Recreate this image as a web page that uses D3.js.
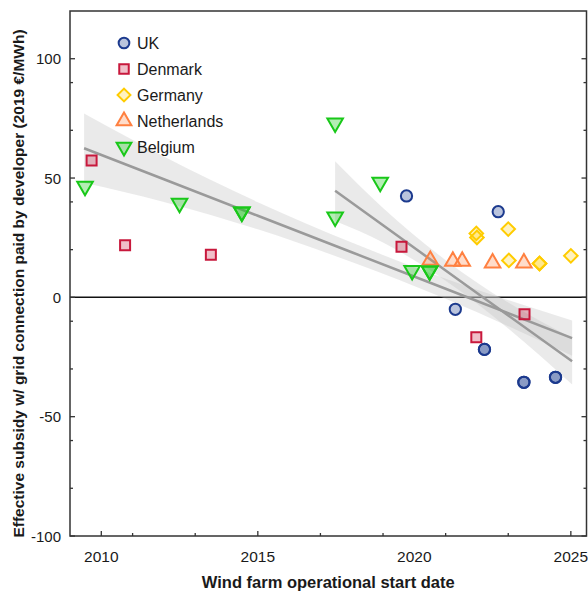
<!DOCTYPE html>
<html>
<head>
<meta charset="utf-8">
<script src="https://cdn.jsdelivr.net/npm/d3@7/dist/d3.min.js"></script>
<style>
  html, body { margin: 0; padding: 0; background: #fff; }
  svg { display: block; }
  text { font-family: "Liberation Sans", Arial, sans-serif; fill: #1a1a1a; }
</style>
</head>
<body>
<svg id="chart" width="588" height="598"></svg>
<script>
// Wind farm start dates (decimal years) and effective subsidy (2019 €/MWh)
const ukYears = [2019.75, 2022.68, 2021.31, 2022.24, 2022.24, 2023.50, 2023.50, 2024.51, 2024.51];
const ukValues = [42.5, 35.9, -5.0, -21.8, -21.8, -35.6, -35.6, -33.5, -33.5];

const dkYears = [2009.69, 2010.76, 2013.50, 2019.59, 2021.98, 2023.52];
const dkValues = [57.4, 21.8, 17.9, 21.2, -16.7, -7.1];

const deYears = [2021.98, 2022.00, 2023.00, 2023.02, 2024.00, 2024.00, 2025.00];
const deValues = [26.8, 25.1, 28.6, 15.5, 14.2, 14.2, 17.4];

const nlYears = [2020.51, 2021.23, 2021.53, 2022.50, 2023.50];
const nlValues = [15.5, 15.1, 15.1, 14.4, 14.4];

const beYears = [2009.48, 2012.50, 2014.49, 2014.49, 2017.47, 2017.47, 2018.91, 2019.93, 2020.49, 2020.49];
const beValues = [46.6, 39.4, 35.8, 35.8, 33.7, 73.1, 48.2, 11.3, 11.1, 11.1];

// Linear trends with confidence bands: all projects, and projects from 2017 on
const trendAllYears = [2009.45, 2012, 2015, 2018, 2021, 2025.04];
const trendAllFit   = [62.5, 49.5, 34.2, 18.9, 3.6, -17.1];
const trendAllLow   = [48.0, 40.0, 28.5, 14.8, -0.6, -24.5];
const trendAllHigh  = [77.0, 59.0, 39.9, 23.0, 7.8, -9.7];

const trendRecentYears = [2017.47, 2019, 2021, 2023, 2025.04];
const trendRecentFit   = [44.7, 30.2, 11.3, -7.6, -26.8];
const trendRecentLow   = [32.0, 23.0, 7.0, -13.0, -36.5];
const trendRecentHigh  = [57.0, 37.4, 15.6, -2.2, -17.0];

// Axis ticks
const xMajorTicks = [2010, 2015, 2020, 2025];
const xTickMarks = [2010, 2011, 2013, 2015, 2017, 2019, 2021, 2023, 2025];
const yMajorTicks = [100, 50, 0, -50, -100];
const yMinorTicks = [90, 70, 40, 20, -10, -30, -60, -80];

const countries = [
  { name: "UK",          years: ukYears, values: ukValues, shape: "circle",   stroke: "#1c3a8e", fill: "rgba(28,58,142,0.30)" },
  { name: "Denmark",     years: dkYears, values: dkValues, shape: "square",   stroke: "#c8183c", fill: "rgba(200,24,60,0.28)" },
  { name: "Germany",     years: deYears, values: deValues, shape: "diamond",  stroke: "#ffcc00", fill: "rgba(255,204,0,0.25)" },
  { name: "Netherlands", years: nlYears, values: nlValues, shape: "triUp",    stroke: "#ff8040", fill: "rgba(255,128,64,0.28)" },
  { name: "Belgium",     years: beYears, values: beValues, shape: "triDown",  stroke: "#19c819", fill: "rgba(25,200,25,0.32)" }
];

const margin = { left: 70, top: 11, right: 1.5, bottom: 62 };
const W = 588, H = 598;
const svg = d3.select("#chart");

const x = d3.scaleLinear().domain([2009, 2025.5]).range([margin.left, W - margin.right]);
const y = d3.scaleLinear().domain([-100, 120]).range([536, margin.top]);

const symbolFor = {
  circle:  { type: d3.symbolCircle,   size: 100, rotate: 0 },
  square:  { type: d3.symbolSquare,   size: 100, rotate: 0 },
  diamond: { type: d3.symbolSquare,   size: 92,  rotate: 45 },
  triUp:   { type: d3.symbolTriangle, size: 105, rotate: 0 },
  triDown: { type: d3.symbolTriangle, size: 105, rotate: 180 }
};

// zero reference line
svg.append("line")
  .attr("x1", x(2009)).attr("x2", x(2025.5))
  .attr("y1", y(0)).attr("y2", y(0))
  .attr("stroke", "#111").attr("stroke-width", 1.5);

// confidence bands and trend lines
function drawTrend(years, fit, low, high) {
  const pts = years.map((yr, i) => ({ yr, fit: fit[i], low: low[i], high: high[i] }));
  const area = d3.area().curve(d3.curveMonotoneX)
    .x(d => x(d.yr)).y0(d => y(d.low)).y1(d => y(d.high));
  svg.append("path").datum(pts).attr("d", area)
    .attr("fill", "#c4c4c4").attr("fill-opacity", 0.35);
  return pts;
}
const allPts = drawTrend(trendAllYears, trendAllFit, trendAllLow, trendAllHigh);
const recentPts = drawTrend(trendRecentYears, trendRecentFit, trendRecentLow, trendRecentHigh);
const line = d3.line().x(d => x(d.yr)).y(d => y(d.fit));
[allPts, recentPts].forEach(p => {
  svg.append("path").datum(p).attr("d", line)
    .attr("fill", "none").attr("stroke", "#9a9a9a").attr("stroke-width", 2.5);
});

// project markers
countries.forEach(c => {
  const s = symbolFor[c.shape];
  const path = d3.symbol().type(s.type).size(s.size)();
  svg.append("g").selectAll("path")
    .data(c.years.map((yr, i) => ({ yr, v: c.values[i] })))
    .join("path")
    .attr("d", path)
    .attr("transform", d => `translate(${x(d.yr)},${y(d.v)}) rotate(${s.rotate})`)
    .attr("fill", c.fill).attr("stroke", c.stroke).attr("stroke-width", 2);
});

// frame
svg.append("rect")
  .attr("x", x(2009)).attr("y", y(120))
  .attr("width", x(2025.5) - x(2009)).attr("height", y(-100) - y(120))
  .attr("fill", "none").attr("stroke", "#333").attr("stroke-width", 1.5);

// ticks pointing inward
const tickG = svg.append("g").attr("stroke", "#333").attr("stroke-width", 1.3);
xTickMarks.forEach(t => {
  const len = xMajorTicks.includes(t) ? 5 : 3;
  tickG.append("line").attr("x1", x(t)).attr("x2", x(t))
    .attr("y1", y(-100)).attr("y2", y(-100) - len);
});
yMajorTicks.concat(yMinorTicks).forEach(t => {
  const len = yMajorTicks.includes(t) ? 5 : 3;
  tickG.append("line").attr("x1", x(2009)).attr("x2", x(2009) + len)
    .attr("y1", y(t)).attr("y2", y(t));
  tickG.append("line").attr("x1", x(2025.5)).attr("x2", x(2025.5) - len)
    .attr("y1", y(t)).attr("y2", y(t));
});

// tick labels
svg.append("g").selectAll("text").data(xMajorTicks).join("text")
  .attr("x", d => x(d)).attr("y", 562)
  .attr("text-anchor", "middle").attr("font-size", 15.5)
  .text(d => d);
svg.append("g").selectAll("text").data(yMajorTicks).join("text")
  .attr("x", 61).attr("y", d => y(d) + 5.5)
  .attr("text-anchor", "end").attr("font-size", 15)
  .text(d => d);

// axis titles
svg.append("text")
  .attr("x", (x(2009) + x(2025.5)) / 2).attr("y", 588)
  .attr("text-anchor", "middle").attr("font-size", 16.5).attr("font-weight", "bold")
  .text("Wind farm operational start date");
svg.append("text")
  .attr("transform", "translate(24,283.5) rotate(-90)")
  .attr("text-anchor", "middle").attr("font-size", 15.5).attr("font-weight", "bold")
  .text("Effective subsidy w/ grid connection paid by developer (2019 €/MWh)");

// legend
const legend = svg.append("g");
countries.forEach((c, i) => {
  const s = symbolFor[c.shape];
  const ly = 43 + i * 26;
  legend.append("path")
    .attr("d", d3.symbol().type(s.type).size(s.size * 0.9)())
    .attr("transform", `translate(124,${ly}) rotate(${s.rotate})`)
    .attr("fill", c.fill).attr("stroke", c.stroke).attr("stroke-width", 2);
  legend.append("text")
    .attr("x", 137).attr("y", ly + 5.5).attr("font-size", 16)
    .text(c.name);
});
</script>
</body>
</html>
